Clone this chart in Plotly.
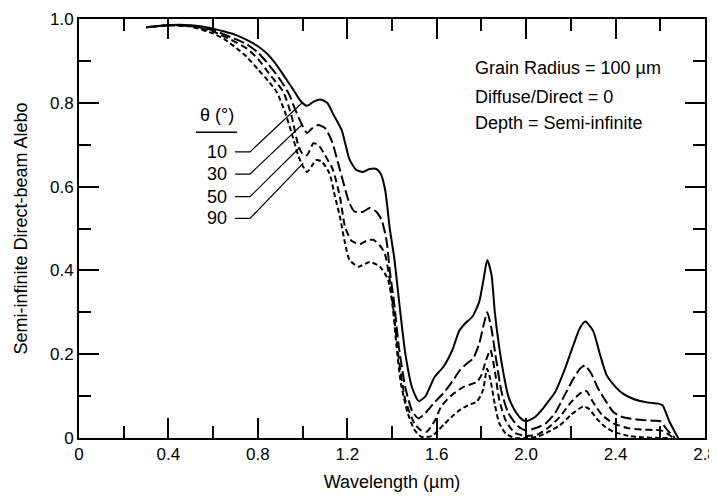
import plotly.graph_objects as go

# ---------------- data ----------------
angles = ["10", "30", "50", "90"]

x10 = [0.30, 0.35, 0.40, 0.45, 0.50, 0.55, 0.60, 0.65, 0.70, 0.75, 0.80, 0.84, 0.88, 0.92, 0.96, 0.99,
       1.02, 1.05, 1.08, 1.11, 1.14, 1.175, 1.21, 1.24, 1.27, 1.30, 1.33, 1.35, 1.37, 1.39, 1.41, 1.435,
       1.46, 1.49, 1.52, 1.55, 1.59, 1.63, 1.67, 1.70, 1.73, 1.76, 1.79, 1.81, 1.826, 1.845, 1.86, 1.88,
       1.90, 1.92, 1.95, 1.98, 2.00, 2.04, 2.07, 2.10, 2.13, 2.17, 2.21, 2.24, 2.265, 2.30, 2.33, 2.36,
       2.39, 2.43, 2.48, 2.54, 2.59, 2.61, 2.64, 2.68]
y10 = [0.980, 0.983, 0.985, 0.986, 0.985, 0.982, 0.977, 0.970, 0.962, 0.950, 0.935, 0.918, 0.893, 0.862, 0.830, 0.805,
       0.793, 0.803, 0.808, 0.800, 0.770, 0.735, 0.665, 0.640, 0.635, 0.642, 0.642, 0.630, 0.590, 0.500, 0.430, 0.310,
       0.200, 0.120, 0.088, 0.100, 0.145, 0.170, 0.210, 0.255, 0.275, 0.290, 0.325, 0.380, 0.425, 0.390, 0.300, 0.215,
       0.150, 0.100, 0.065, 0.045, 0.040, 0.050, 0.067, 0.088, 0.110, 0.160, 0.220, 0.262, 0.278, 0.255, 0.200, 0.150,
       0.128, 0.107, 0.093, 0.085, 0.082, 0.078, 0.040, 0.0]

x30 = [0.30, 0.40, 0.50, 0.60, 0.70, 0.75, 0.80, 0.85, 0.90, 0.94, 0.97, 1.00, 1.02, 1.045, 1.07, 1.10,
       1.13, 1.167, 1.21, 1.234, 1.27, 1.30, 1.33, 1.354, 1.376, 1.39, 1.41, 1.43, 1.46, 1.49, 1.518, 1.55,
       1.59, 1.63, 1.67, 1.704, 1.74, 1.763, 1.79, 1.81, 1.826, 1.845, 1.865, 1.89, 1.92, 1.96, 2.00, 2.05,
       2.09, 2.13, 2.17, 2.21, 2.24, 2.263, 2.29, 2.32, 2.36, 2.39, 2.43, 2.47, 2.52, 2.57, 2.60, 2.63, 2.665]
y30 = [0.980, 0.985, 0.984, 0.973, 0.952, 0.940, 0.920, 0.890, 0.855, 0.820, 0.780, 0.745, 0.728, 0.740, 0.747, 0.740,
       0.710, 0.640, 0.560, 0.540, 0.540, 0.549, 0.540, 0.520, 0.470, 0.400, 0.320, 0.220, 0.120, 0.065, 0.047, 0.060,
       0.085, 0.107, 0.135, 0.162, 0.180, 0.190, 0.225, 0.270, 0.300, 0.260, 0.190, 0.110, 0.060, 0.030, 0.018, 0.025,
       0.036, 0.060, 0.100, 0.140, 0.165, 0.173, 0.155, 0.120, 0.085, 0.062, 0.050, 0.046, 0.043, 0.041, 0.040, 0.020, 0.0]

x50 = [0.30, 0.40, 0.50, 0.60, 0.70, 0.75, 0.80, 0.85, 0.88, 0.914, 0.95, 0.98, 1.00, 1.02, 1.048, 1.07,
       1.10, 1.136, 1.167, 1.19, 1.22, 1.257, 1.29, 1.316, 1.345, 1.368, 1.39, 1.41, 1.43, 1.46, 1.50, 1.53,
       1.555, 1.59, 1.62, 1.66, 1.72, 1.78, 1.80, 1.82, 1.84, 1.86, 1.88, 1.91, 1.95, 2.00, 2.05, 2.10,
       2.15, 2.20, 2.25, 2.27, 2.30, 2.34, 2.39, 2.46, 2.52, 2.58, 2.61, 2.66]
y50 = [0.980, 0.985, 0.983, 0.970, 0.945, 0.930, 0.905, 0.870, 0.850, 0.826, 0.770, 0.700, 0.678, 0.675, 0.703, 0.700,
       0.675, 0.640, 0.576, 0.504, 0.470, 0.463, 0.472, 0.473, 0.460, 0.440, 0.377, 0.290, 0.190, 0.090, 0.035, 0.018,
       0.015, 0.040, 0.075, 0.099, 0.122, 0.134, 0.150, 0.185, 0.210, 0.160, 0.090, 0.040, 0.012, 0.005, 0.008, 0.025,
       0.050, 0.085, 0.110, 0.112, 0.085, 0.055, 0.035, 0.023, 0.020, 0.019, 0.017, 0.0]

x90 = [0.30, 0.40, 0.50, 0.60, 0.65, 0.705, 0.75, 0.80, 0.85, 0.884, 0.92, 0.95, 0.98, 1.00, 1.02, 1.04,
       1.06, 1.085, 1.12, 1.145, 1.167, 1.19, 1.21, 1.25, 1.30, 1.346, 1.383, 1.405, 1.42, 1.44, 1.47, 1.50,
       1.53, 1.58, 1.61, 1.637, 1.67, 1.704, 1.74, 1.78, 1.807, 1.825, 1.84, 1.86, 1.88, 1.91, 1.95, 2.00,
       2.05, 2.10, 2.15, 2.20, 2.255, 2.28, 2.315, 2.35, 2.39, 2.46, 2.52, 2.60, 2.65]
y90 = [0.980, 0.985, 0.982, 0.965, 0.952, 0.930, 0.910, 0.880, 0.850, 0.826, 0.780, 0.730, 0.675, 0.650, 0.635, 0.648,
       0.663, 0.660, 0.632, 0.576, 0.528, 0.465, 0.425, 0.409, 0.420, 0.409, 0.377, 0.305, 0.220, 0.130, 0.060, 0.020,
       0.003, 0.005, 0.020, 0.035, 0.052, 0.067, 0.078, 0.087, 0.114, 0.165, 0.140, 0.080, 0.035, 0.010, 0.0, 0.0,
       0.003, 0.015, 0.030, 0.055, 0.075, 0.070, 0.047, 0.028, 0.015, 0.005, 0.002, 0.0, 0.0]

# leader lines: label row height and point on curve
label_y = [0.683, 0.630, 0.576, 0.524]
leader_end_x = [0.996, 0.996, 0.985, 1.003]
leader_end_y = [0.799, 0.747, 0.692, 0.656]

x_tickvals = [0, 0.4, 0.8, 1.2, 1.6, 2.0, 2.4, 2.8]
x_ticktext = ["0", "0.4", "0.8", "1.2", "1.6", "2.0", "2.4", "2.8"]
y_tickvals = [0, 0.2, 0.4, 0.6, 0.8, 1.0]
y_ticktext = ["0", "0.2", "0.4", "0.6", "0.8", "1.0"]

notes = ["Grain Radius = 100 µm", "Diffuse/Direct = 0", "Depth = Semi-infinite"]
notes_y = [0.883, 0.814, 0.752]

# ---------------- figure ----------------
FONT = "Liberation Sans, Arial, Helvetica, sans-serif"
series = [(x10, y10, "solid"), (x30, y30, "11px,4px"), (x50, y50, "7px,4px"), (x90, y90, "5px,3px")]

fig = go.Figure()
for (xs, ys, dash), name in zip(series, angles):
    fig.add_trace(go.Scatter(x=xs, y=ys, mode="lines", name=name,
                             line=dict(color="black", width=2, dash=dash, shape="spline", smoothing=0.6),
                             showlegend=False, hoverinfo="x+y+name"))

# leader lines and labels
for name, ly, ex, ey in zip(angles, label_y, leader_end_x, leader_end_y):
    fig.add_shape(type="path", xref="x", yref="y",
                  path=f"M 0.698,{ly} L 0.765,{ly} L {ex},{ey}",
                  line=dict(color="black", width=1.2))
    fig.add_annotation(x=0.672, y=ly, xref="x", yref="y", text=name, showarrow=False,
                       xanchor="right", yanchor="middle", font=dict(family=FONT, size=18, color="black"))

fig.add_annotation(x=0.617, y=0.770, xref="x", yref="y", text="θ (°)", showarrow=False,
                   xanchor="center", yanchor="middle", font=dict(family=FONT, size=18, color="black"))
fig.add_shape(type="line", xref="x", yref="y", x0=0.523, x1=0.707, y0=0.730, y1=0.730,
              line=dict(color="black", width=1.5))

for t, ty in zip(notes, notes_y):
    fig.add_annotation(x=1.762, y=ty, xref="x", yref="y", text=t, showarrow=False,
                       xanchor="left", yanchor="middle", font=dict(family=FONT, size=18, color="black"))

axis_common = dict(showgrid=False, zeroline=False, showline=True, linecolor="black", linewidth=2,
                   mirror="ticks", ticks="inside", ticklen=20, tickwidth=2, tickcolor="black",
                   automargin=False,
                   tickfont=dict(family=FONT, size=17, color="black"))

fig.update_xaxes(range=[0, 2.8], tickmode="array", tickvals=x_tickvals, ticktext=x_ticktext,
                 minor=dict(tick0=0, dtick=0.2, ticklen=12, tickwidth=2,
                            tickcolor="black", ticks="inside", showgrid=False),
                 title=dict(text="Wavelength (µm)", font=dict(family=FONT, size=18, color="black"), standoff=12),
                 **axis_common)
fig.update_yaxes(range=[0, 1.0], tickmode="array", tickvals=y_tickvals, ticktext=y_ticktext,
                 minor=dict(tick0=0, dtick=0.1, ticklen=12, tickwidth=2,
                            tickcolor="black", ticks="inside", showgrid=False),
                 title=dict(text="Semi-infinite Direct-beam Alebo", font=dict(family=FONT, size=18, color="black"),
                            standoff=18),
                 **axis_common)

# the page body adds an 8px offset, so the figure is sized to keep the frame where the reference has it
fig.update_layout(width=709, height=488, margin=dict(l=71, r=12, t=11, b=58),
                  paper_bgcolor="white", plot_bgcolor="white", showlegend=False)

fig.write_html("out.html")
